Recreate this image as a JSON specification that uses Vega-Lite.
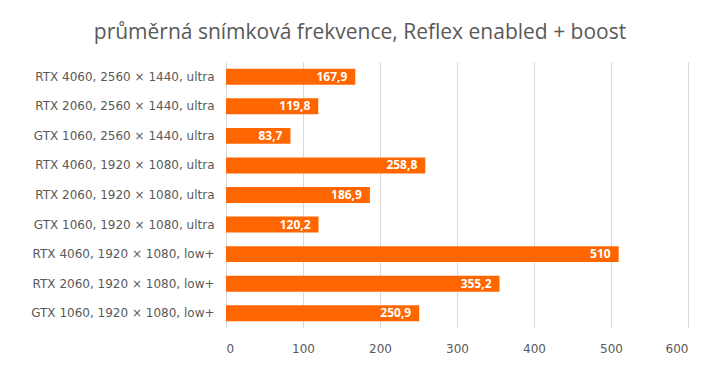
{
  "$schema": "https://vega.github.io/schema/vega-lite/v6.json",
  "autosize": {"type": "none"},
  "width": 462,
  "height": 266,
  "padding": {"left": 226, "top": 62, "right": 32, "bottom": 50},
  "background": "white",
  "title": {
    "text": "průměrná snímková frekvence, Reflex enabled + boost",
    "font": "Open Sans",
    "fontSize": 21,
    "fontWeight": "normal",
    "color": "#595959",
    "anchor": "middle",
    "frame": "group",
    "dx": -97,
    "offset": 19
  },
  "config": {
    "locale": {"number": {"decimal": ",", "thousands": " ", "grouping": [3], "currency": ["", " Kč"]}},
    "view": {"stroke": null},
    "axis": {"labelFont": "DejaVu Sans", "labelFontSize": 12, "labelColor": "#595959", "labelLimit": 0, "domain": false, "ticks": false, "title": null}
  },
  "data": {
    "values": [
      {"setup": "RTX 4060, 2560 × 1440, ultra", "fps": 167.9},
      {"setup": "RTX 2060, 2560 × 1440, ultra", "fps": 119.8},
      {"setup": "GTX 1060, 2560 × 1440, ultra", "fps": 83.7},
      {"setup": "RTX 4060, 1920 × 1080, ultra", "fps": 258.8},
      {"setup": "RTX 2060, 1920 × 1080, ultra", "fps": 186.9},
      {"setup": "GTX 1060, 1920 × 1080, ultra", "fps": 120.2},
      {"setup": "RTX 4060, 1920 × 1080, low+", "fps": 510},
      {"setup": "RTX 2060, 1920 × 1080, low+", "fps": 355.2},
      {"setup": "GTX 1060, 1920 × 1080, low+", "fps": 250.9}
    ]
  },
  "encoding": {
    "y": {
      "field": "setup", "type": "nominal", "sort": null,
      "scale": {"paddingInner": 0.46, "paddingOuter": 0.23},
      "axis": {"labelPadding": 12, "grid": false}
    },
    "x": {
      "field": "fps", "type": "quantitative",
      "scale": {"domain": [0, 600], "nice": false},
      "axis": {"values": [0, 100, 200, 300, 400, 500, 600], "grid": true, "gridColor": "#d9d9d9", "labelPadding": 15, "format": "d"}
    }
  },
  "layer": [
    {"mark": {"type": "bar", "color": "#ff6600"}},
    {
      "mark": {"type": "text", "align": "right", "dx": -8, "color": "white", "font": "Open Sans", "fontSize": 12, "fontWeight": "bold", "baseline": "middle"},
      "encoding": {"text": {"field": "fps", "type": "quantitative", "format": ".1~f"}}
    }
  ]
}
